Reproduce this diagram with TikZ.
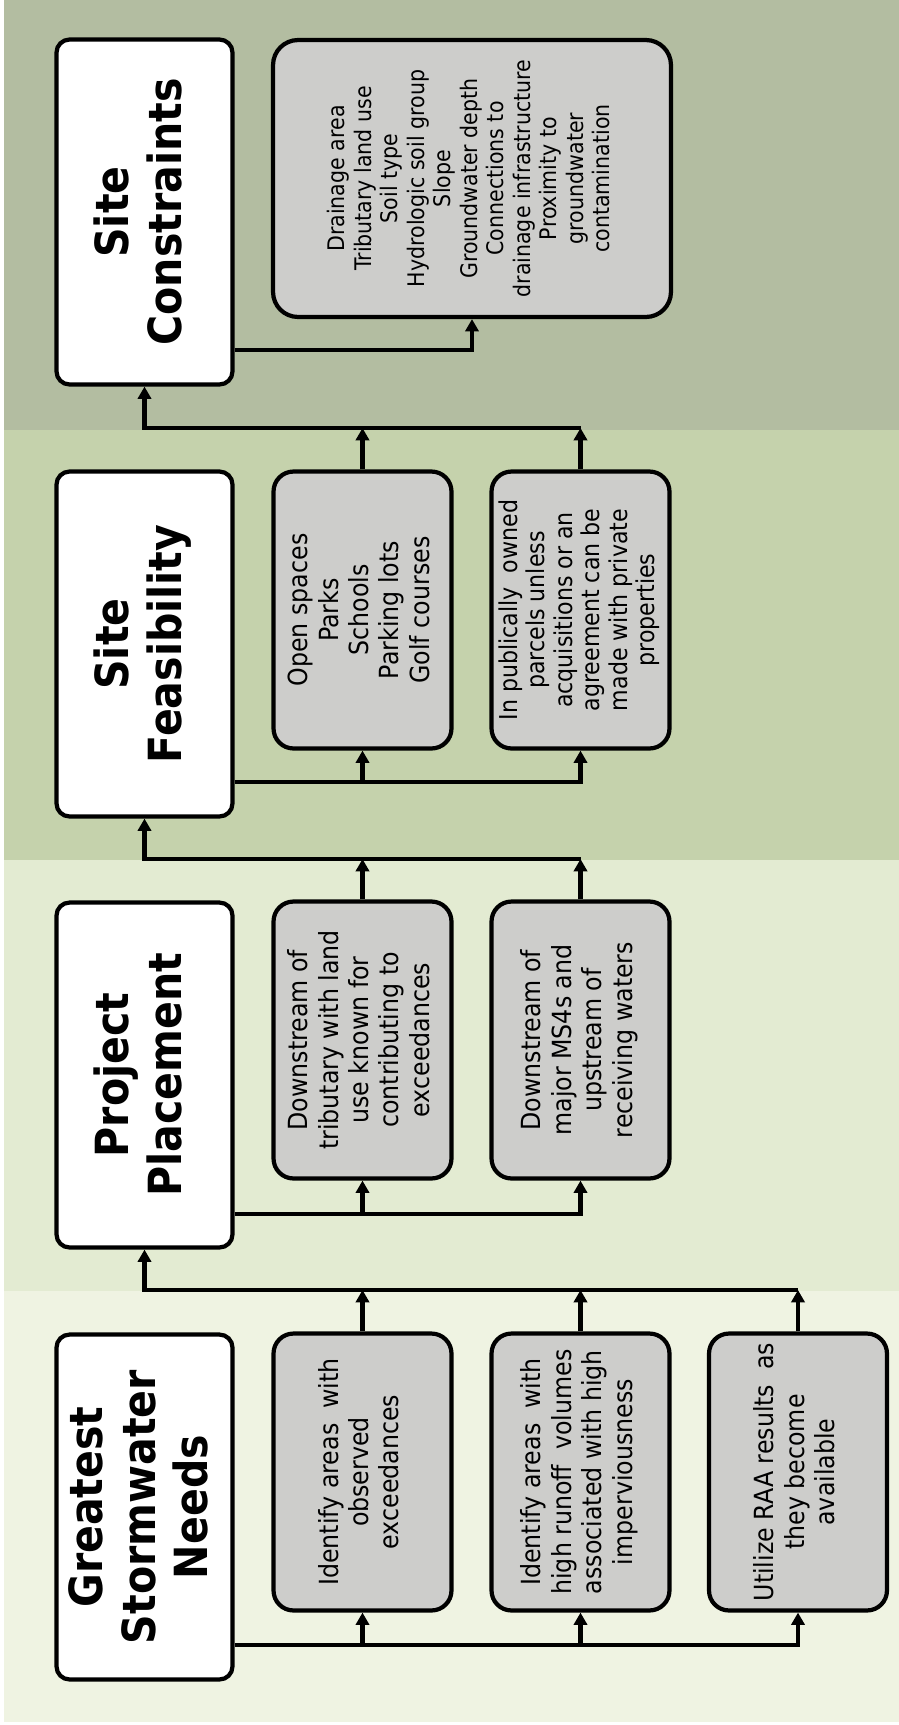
\documentclass[tikz,border=0pt]{standalone}
\usepackage{fontspec}
\setmainfont{DejaVu Sans}[FakeStretch=0.9]
\usepackage{graphicx}
\usepackage{xcolor}
\usetikzlibrary{arrows.meta}

\definecolor{bandA}{RGB}{179,189,161}
\definecolor{bandB}{RGB}{197,210,172}
\definecolor{bandC}{RGB}{227,235,210}
\definecolor{bandD}{RGB}{239,243,226}
\definecolor{boxgray}{RGB}{205,205,203}

\newcommand{\uptext}[1]{\rotatebox{90}{\begin{tabular}{@{}c@{}}#1\end{tabular}}}

\begin{document}
\begin{tikzpicture}[x=0.02cm, y=-0.02cm,
    headbox/.style={draw, line width=2.4pt, fill=white, rounded corners=0.26cm,
        minimum width=3.52cm, minimum height=6.9cm, inner sep=0pt,
        font=\fontsize{26}{30}\selectfont\bfseries},
    itembox/.style={draw, line width=2.4pt, fill=boxgray, rounded corners=0.4cm,
        minimum width=3.56cm, minimum height=5.54cm, inner sep=0pt,
        font=\fontsize{15}{17.3}\selectfont},
    link/.style={line width=2.4pt},
    conn/.style={line width=2.4pt, -{Triangle[length=7pt, width=7.5pt]}}]
        \useasboundingbox (0,0) rectangle (899,1725);

        % Draw the four background bands
        \fill[bandA] (4,0) rectangle (899,430);
        \fill[bandB] (4,430) rectangle (899,860);
        \fill[bandC] (4,860) rectangle (899,1291);
        \fill[bandD] (4,1291) rectangle (899,1722);

        % Add the header boxes
        \node[headbox] (h1) at (144.5,212) {\uptext{Site\\Constraints}};
        \node[headbox] (h2) at (144.5,644) {\uptext{Site\\Feasibility}};
        \node[headbox] (h3) at (144.5,1075) {\uptext{Project\\Placement}};
        \node[headbox] (h4) at (144.5,1507) {\uptext{Greatest\\Stormwater\\Needs}};

        % Add the constraint list
        \node[itembox, minimum width=7.96cm, minimum height=5.54cm, rounded corners=0.5cm,
            font=\fontsize{13}{15.1}\selectfont] (b11) at (472,178.5)
            {\uptext{Drainage area\\Tributary land use\\Soil type\\Hydrologic soil group\\Slope\\
            Groundwater depth\\Connections to\\drainage infrastructure\\Proximity to\\groundwater\\contamination}};

        % Add the feasibility boxes
        \node[itembox] (b21) at (362.5,610) {\uptext{Open spaces\\Parks\\Schools\\Parking lots\\Golf courses}};
        \node[itembox, font=\fontsize{14}{15.6}\selectfont] (b22) at (580.5,610)
            {\uptext{In publically~ owned\\parcels unless\\acquisitions or an\\
            agreement can be\\made with private\\properties}};

        % Add the placement boxes
        \node[itembox] (b31) at (362.5,1040) {\uptext{Downstream of\\tributary with land\\use known for\\
            contributing to\\exceedances}};
        \node[itembox] (b32) at (580.5,1040) {\uptext{Downstream of\\major MS4s and\\upstream of\\receiving waters}};

        % Add the needs boxes
        \node[itembox] (b41) at (362.5,1472) {\uptext{Identify areas~ with\\observed\\exceedances}};
        \node[itembox] (b42) at (580.5,1472) {\uptext{Identify areas~ with\\high runoff~ volumes\\
            associated with high\\imperviousness}};
        \node[itembox] (b43) at (798,1472) {\uptext{Utilize RAA results~ as\\they become\\available}};

        % Rows below the headers and the lines between bands
        \coordinate (r1) at (0,350);
        \coordinate (r2) at (0,782);
        \coordinate (r3) at (0,1214);
        \coordinate (r4) at (0,1645);
        \coordinate (t1) at (0,428);
        \coordinate (t2) at (0,859);
        \coordinate (t3) at (0,1290);

        % Draw the arrows inside each band
        \draw[conn] (h1.east |- r1) -| (b11.south);
        \draw[conn] (h2.east |- r2) -| (b22.south);
        \draw[conn] (b21.south |- r2) -- (b21.south);
        \draw[conn] (h3.east |- r3) -| (b32.south);
        \draw[conn] (b31.south |- r3) -- (b31.south);
        \draw[conn] (h4.east |- r4) -| (b43.south);
        \draw[conn] (b41.south |- r4) -- (b41.south);
        \draw[conn] (b42.south |- r4) -- (b42.south);

        % Draw the arrows from one band up to the next
        \draw[conn] (b21.north) -- (b21.north |- t1);
        \draw[conn] (b22.north) -- (b22.north |- t1);
        \draw[conn] (b22.north |- t1) -| (h1.south);
        \draw[conn] (b31.north) -- (b31.north |- t2);
        \draw[conn] (b32.north) -- (b32.north |- t2);
        \draw[conn] (b32.north |- t2) -| (h2.south);
        \draw[conn] (b41.north) -- (b41.north |- t3);
        \draw[conn] (b42.north) -- (b42.north |- t3);
        \draw[conn] (b43.north) -- (b43.north |- t3);
        \draw[conn] (b43.north |- t3) -| (h3.south);
\end{tikzpicture}
\end{document}
